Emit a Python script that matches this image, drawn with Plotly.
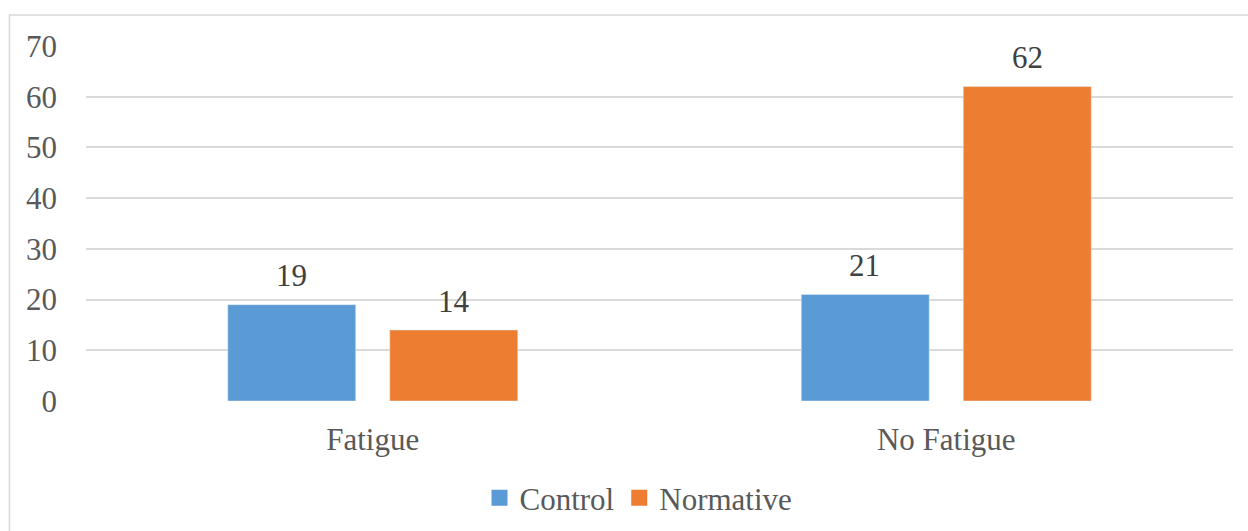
import plotly.graph_objects as go

categories = ["Fatigue", "No Fatigue"]
control = [19, 21]
normative = [14, 62]
y_ticks = [0, 10, 20, 30, 40, 50, 60, 70]

FONT = "Liberation Serif"
BLUE = "#5B9BD5"
ORANGE = "#ED7D31"
TXT = "#595959"
LBL = "#404040"

fig = go.Figure()
fig.add_trace(go.Bar(x=categories, y=control, name="Control", marker_color=BLUE,
                     showlegend=False, offsetgroup="c"))
fig.add_trace(go.Bar(x=categories, y=normative, name="Normative", marker_color=ORANGE,
                     showlegend=False, offsetgroup="n"))

fig.add_trace(go.Scatter(x=[None], y=[None], mode="markers", name="Control",
                         marker=dict(symbol="square", size=16, color=BLUE)))
fig.add_trace(go.Scatter(x=[None], y=[None], mode="markers", name="Normative",
                         marker=dict(symbol="square", size=16, color=ORANGE)))

# data labels above bars (offset within category: bars centred at +/- 81.75 px of 573.5 px)
annotations = []
for i, c in enumerate(categories):
    for vals, off in ((control, -0.1425), (normative, 0.1425)):
        annotations.append(dict(x=i + off, y=vals[i], xref="x", yref="y", text=str(vals[i]),
                                showarrow=False, yanchor="middle", yshift=29,
                                font=dict(family=FONT, size=31, color=LBL)))

fig.update_layout(
    width=1248, height=531,
    margin=dict(l=86, r=15, t=46, b=130),
    paper_bgcolor="white", plot_bgcolor="white",
    barmode="group", bargap=0.435, bargroupgap=0.21,
    font=dict(family=FONT, size=31, color=TXT),
    showlegend=True,
    legend=dict(orientation="h", x=0.4817, xanchor="center", yref="container",
                y=0.062, yanchor="middle", itemwidth=30,
                font=dict(family=FONT, size=31, color=TXT), traceorder="normal"),
    xaxis=dict(showgrid=False, zeroline=False, showline=False, ticks="",
               ticklabelstandoff=17, tickfont=dict(family=FONT, size=31, color=TXT)),
    yaxis=dict(range=[0, 70], tickvals=y_ticks, showgrid=True, gridcolor="#D9D9D9",
               gridwidth=1.5, zeroline=False, showline=False, ticks="",
               ticklabelstandoff=28, tickfont=dict(family=FONT, size=31, color=TXT)),
    annotations=annotations,
    shapes=[dict(type="rect", xref="paper", yref="paper",
                 x0=-0.0667, x1=1.2, y0=1.087, y1=-0.6,
                 line=dict(color="#D9D9D9", width=1.5), fillcolor="rgba(0,0,0,0)", layer="below")],
)

fig.write_html("out.html")
